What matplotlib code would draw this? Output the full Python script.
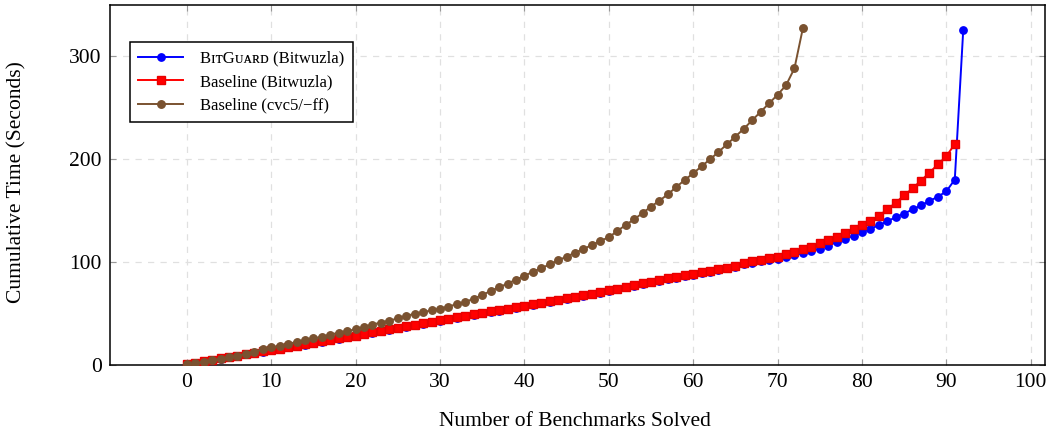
import matplotlib.pyplot as plt

# ------------------------------------------------------------
# Data (cumulative seconds)
# ------------------------------------------------------------
bitguard_time = [
    0.6, 2.0, 3.3, 4.7, 6.1, 7.5, 8.8, 10.2, 11.6, 12.9,
    14.2, 15.6, 17.0, 18.4, 19.8, 21.2, 22.6, 24.0, 25.4, 26.8,
    28.2, 29.7, 31.2, 32.7, 34.2, 35.7, 37.2, 38.7, 40.2, 41.7,
    43.1, 44.5, 45.9, 47.3, 48.7, 50.1, 51.5, 52.9, 54.3, 55.7,
    57.0, 58.4, 59.9, 61.3, 62.8, 64.2, 65.7, 67.1, 68.6, 70.1,
    71.9, 73.6, 75.3, 77.0, 78.6, 80.3, 81.9, 83.4, 84.9, 86.3,
    87.7, 89.2, 90.7, 92.2, 93.9, 95.6, 97.8, 99.4, 101.0, 102.2,
    103.2, 105.2, 106.8, 108.7, 110.7, 112.9, 115.8, 119.4, 122.3, 125.6,
    128.8, 132.3, 135.6, 139.5, 143.4, 147.0, 151.0, 155.0, 159.2, 163.4,
    168.6, 180.0, 325.0,
]

baseline_bitwuzla = [
    0.9, 2.3, 3.7, 5.1, 6.5, 7.9, 9.2, 10.6, 12.0, 13.3,
    14.6, 16.0, 17.4, 18.8, 20.2, 21.6, 23.0, 24.4, 25.8, 27.2,
    28.6, 30.1, 31.6, 33.1, 34.6, 36.1, 37.6, 39.1, 40.6, 42.1,
    43.6, 45.0, 46.4, 47.8, 49.2, 50.6, 52.0, 53.4, 54.8, 56.2,
    57.6, 59.0, 60.5, 61.9, 63.4, 64.8, 66.3, 67.7, 69.2, 70.7,
    72.5, 74.2, 75.9, 77.6, 79.2, 80.9, 82.5, 84.0, 85.5, 86.9,
    88.3, 89.8, 91.3, 92.8, 94.5, 96.2, 98.7, 100.6, 102.2, 103.9,
    105.2, 107.4, 109.7, 112.3, 114.9, 118.1, 121.0, 124.6, 128.5, 132.0,
    135.9, 139.8, 144.7, 151.1, 157.6, 164.7, 171.5, 179.0, 186.7, 194.8,
    202.6, 214.6,
]

baseline_cvc5 = [
    0.6, 1.8, 3.0, 4.5, 6.0, 7.3, 8.7, 10.9, 13.0, 15.1,
    17.0, 18.7, 20.4, 22.4, 24.2, 25.8, 27.5, 29.5, 31.4, 33.0,
    34.6, 37.0, 39.3, 41.2, 43.0, 45.3, 47.6, 49.8, 51.4, 53.0,
    54.8, 56.6, 59.2, 61.2, 64.4, 68.0, 71.8, 75.4, 79.0, 82.8,
    86.4, 90.6, 93.9, 97.7, 101.6, 105.2, 109.0, 112.6, 116.5, 120.4,
    124.0, 130.0, 135.9, 141.4, 147.5, 153.7, 159.5, 165.7, 172.8, 179.6,
    186.1, 192.9, 199.7, 206.8, 214.3, 221.7, 229.4, 237.6, 245.9, 254.0,
    262.4, 271.5, 288.0, 327.0,
]

x_ticks = [0, 10, 20, 30, 40, 50, 60, 70, 80, 90, 100]
y_ticks = [0, 100, 200, 300]

plt.rcParams['font.family'] = ['Liberation Serif', 'DejaVu Serif']

fig = plt.figure(figsize=(10.61, 4.34), dpi=100)
ax = fig.add_axes([0.1037, 0.159, 0.8813, 0.8295])

ax.plot(range(len(bitguard_time)), bitguard_time, color='#0000ff', marker='o',
        markersize=5.3, linewidth=1.4, label='BɪᴛGᴜᴀʀᴅ (Bitwuzla)', zorder=3)
ax.plot(range(len(baseline_bitwuzla)), baseline_bitwuzla, color='#ff0000',
        marker='s', markersize=5.2, linewidth=1.4, markeredgecolor='#e80000',
        label='Baseline (Bitwuzla)', zorder=4)
ax.plot(range(len(baseline_cvc5)), baseline_cvc5, color='#7a5230', marker='o',
        markersize=5.4, linewidth=1.4, label='Baseline (cvc5/−ff)', zorder=5)

ax.set_xlim(-9.1, 101.7)
ax.set_ylim(0, 349.5)
ax.set_xticks(x_ticks)
ax.set_yticks(y_ticks)
ax.tick_params(direction='in', length=4, color='#999999', labelsize=15.5,
               pad=6, right=True, top=True)
ax.grid(True, linestyle=(0, (5, 5)), color='#e0e0e0', linewidth=0.9)
ax.set_axisbelow(True)
for s in ax.spines.values():
    s.set_linewidth(1.1)

# axis titles placed like the pgfplots original
fig.text(575 / 1061, 1 - 421 / 434, 'Number of Benchmarks Solved',
         ha='center', va='center', fontsize=15.5)
fig.text(17 / 1061, 1 - 182 / 434, 'Cumulative Time (Seconds)',
         ha='center', va='center', rotation=90, fontsize=15.5)

leg = ax.legend(loc='upper left', bbox_to_anchor=(0.0214, 0.897), fontsize=12,
                fancybox=False, framealpha=1, edgecolor='black',
                handlelength=2.7, borderpad=0.5, labelspacing=0.45,
                handletextpad=1.0, borderaxespad=0)
leg.get_frame().set_linewidth(1.1)

plt.savefig('out.png', dpi=100)
